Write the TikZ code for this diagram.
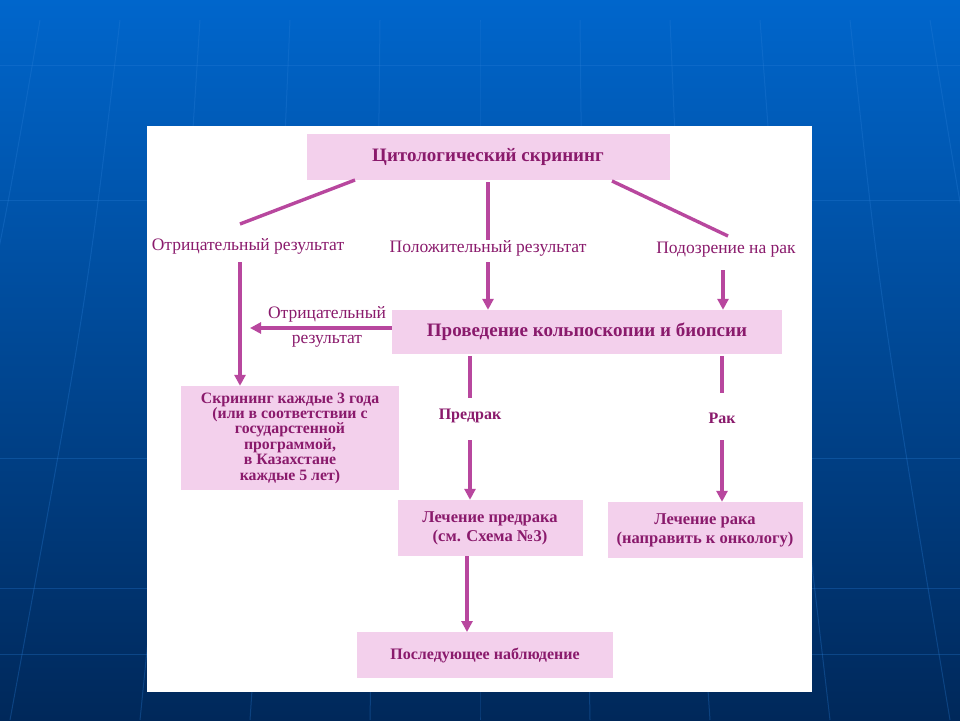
\documentclass[tikz,border=0pt]{standalone}
\usepackage{fontspec}
\setmainfont{Liberation Serif}
\usetikzlibrary{arrows.meta}
\definecolor{bgtop}{HTML}{0066CC}
\definecolor{bgbot}{HTML}{00285A}
\definecolor{gridc}{HTML}{2A7FD8}
\definecolor{boxfill}{HTML}{F3D0EC}
\definecolor{txtc}{HTML}{8A1A6C}
\definecolor{linec}{HTML}{B8479E}
\tikzset{
  pbox/.style={fill=boxfill, draw=none, text=txtc, font=\bfseries\fontsize{16}{18}\selectfont, align=center, inner sep=0pt},
  lbl/.style={text=txtc, font=\fontsize{17.5}{20}\selectfont, align=center, inner sep=1pt},
  conn/.style={draw=linec, line width=3.4pt},
  arr/.style={draw=linec, line width=3.4pt, -{Triangle[length=11pt,width=11pt]}},
  gridl/.style={draw=gridc, line width=1pt, opacity=0.3}
}
\begin{document}
\begin{tikzpicture}[x=1pt,y=-1pt]
\useasboundingbox (0,0) rectangle (960,720);
% background
\shade[top color=bgtop, bottom color=bgbot] (0,0) rectangle (960,720);
% faint grid
\foreach \yy in {65,200,458,588,654} {\draw[gridl] (0,\yy) -- (960,\yy);}
\foreach \xa/\xb in {40/-120, 120/10, 200/140, 290/250, 380/370, 480/480, 580/590, 670/710, 760/830, 850/950, 930/1080} {
  \draw[gridl] (\xa,20) .. controls (\xa+0.3*\xb-0.3*\xa,300) .. (\xb,720);
}
% white panel
\fill[white] (147,126) rectangle (812,692);
% boxes
\node[pbox, minimum width=363pt, minimum height=46pt, font=\bfseries\fontsize{19}{21}\selectfont] (cyto) at (488,157) {Цитологический скрининг};
\node[lbl] (neg) at (248,246) {Отрицательный результат};
\node[lbl] (pos) at (488,248) {Положительный результат};
\node[lbl] (susp) at (726,250) {Подозрение на рак};
\node[pbox, minimum width=390pt, minimum height=44pt, font=\bfseries\fontsize{19}{21}\selectfont] (colpo) at (587,332) {Проведение кольпоскопии и биопсии};
\node[pbox, minimum width=218pt, minimum height=104pt, font=\bfseries\fontsize{15.8}{15.4}\selectfont] (scr) at (290,438) {Скрининг каждые 3 года\\(или в соответствии с\\государстенной\\программой,\\в Казахстане\\каждые 5 лет)};
\node[lbl] (neg2) at (327,314) {Отрицательный};
\node[lbl] (neg3) at (327,341) {результат};
\node[lbl, font=\bfseries\fontsize{16}{18}\selectfont] (pred) at (470,416) {Предрак};
\node[lbl, font=\bfseries\fontsize{16}{18}\selectfont] (rak) at (722,418) {Рак};
\node[pbox, minimum width=185pt, minimum height=56pt, font=\bfseries\fontsize{16.5}{19}\selectfont] (tpred) at (490,528) {Лечение предрака\\(см. Схема №3)};
\node[pbox, minimum width=195pt, minimum height=56pt, font=\bfseries\fontsize{16.5}{19}\selectfont] (trak) at (705,530) {Лечение рака\\(направить к онкологу)};
\node[pbox, minimum width=256pt, minimum height=46pt] (follow) at (485,655) {Последующее наблюдение};
% connector end points
\coordinate (c1) at (240,224);
\coordinate (c1s) at (355,180);
\coordinate (c2) at (488,240);
\coordinate (c3) at (728,236);
\coordinate (c3s) at (612,181);
\coordinate (a1s) at (240,262);
\coordinate (a2s) at (488,262);
\coordinate (a3s) at (723,270);
\coordinate (p1) at (470,398);
\coordinate (p2) at (470,440);
\coordinate (r1) at (722,393);
\coordinate (r2) at (722,440);
% connectors
\draw[conn] (c1s) -- (c1);
\draw[conn] (cyto.south) ++(0,2) -- (c2);
\draw[conn] (c3s) -- (c3);
\draw[arr] (a1s) -- (a1s |- scr.north);
\draw[arr] (a2s) -- (a2s |- colpo.north);
\draw[arr] (a3s) -- (a3s |- colpo.north);
\draw[arr] (colpo.west |- 0,328) -- (250,328);
\draw[conn] (p1 |- colpo.south) ++(0,2) -- (p1);
\draw[arr] (p2) -- (p2 |- tpred.north);
\draw[conn] (r1 |- colpo.south) ++(0,2) -- (r1);
\draw[arr] (r2) -- (r2 |- trak.north);
\draw[arr] (467,556) -- (467,632);
\end{tikzpicture}
\end{document}
